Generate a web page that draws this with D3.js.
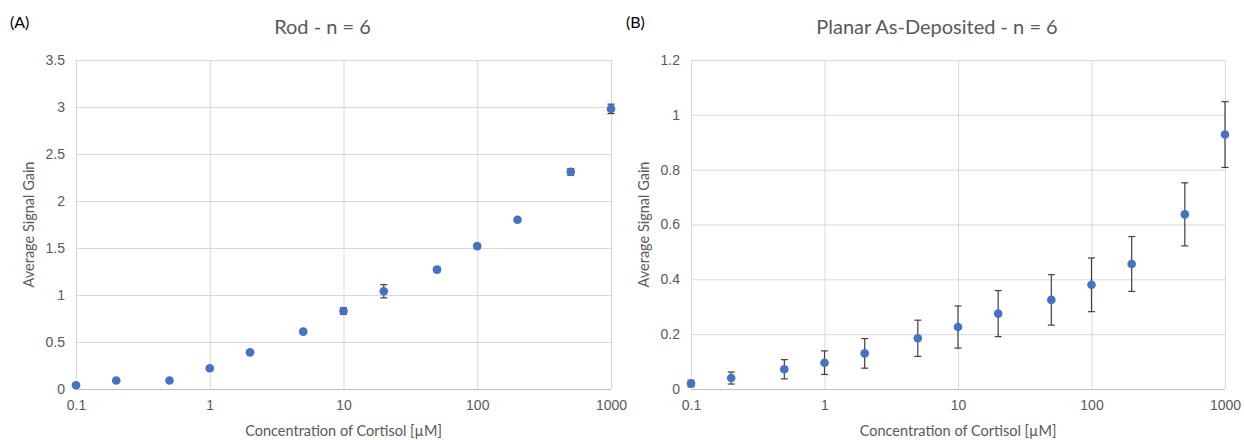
<!DOCTYPE html>
<html>
<head>
<meta charset="utf-8">
<script src="https://cdn.jsdelivr.net/npm/d3@7"></script>
<style>
  body { margin: 0; background: #fff; }
  svg { display: block; font-family: Lato, "Open Sans", sans-serif; }
  .grid line { stroke: #d9d9d9; stroke-width: 1; }
  .grid .domain { display: none; }
  .tick text { fill: #595959; font-size: 14px; }
</style>
</head>
<body>
<svg class="chart"></svg>
<script>
// DATA ////////////////////////////////////////
const concentrations = [0.1, 0.2, 0.5, 1, 2, 5, 10, 20, 50, 100, 200, 500, 1000];
const rodGain = [0.04, 0.09, 0.09, 0.22, 0.39, 0.61, 0.83, 1.04, 1.27, 1.52, 1.8, 2.31, 2.98];
const rodErr = [0.015, 0.015, 0.02, 0.02, 0.015, 0.015, 0.035, 0.07, 0.025, 0.02, 0.02, 0.035, 0.05];
const planarGain = [0.02, 0.04, 0.072, 0.096, 0.13, 0.185, 0.226, 0.275, 0.325, 0.38, 0.456, 0.637, 0.928];
const planarErr = [0.012, 0.022, 0.035, 0.043, 0.054, 0.066, 0.077, 0.084, 0.092, 0.098, 0.1, 0.115, 0.12];
const xTicks = [0.1, 1, 10, 100, 1000];
const rodTicks = [0, 0.5, 1, 1.5, 2, 2.5, 3, 3.5];
const planarTicks = [0, 0.2, 0.4, 0.6, 0.8, 1, 1.2];

// DEFINITIONS /////////////////////////////////
const W = 1244;
const H = 440;
const svg = d3.select(".chart").attr("width", W).attr("height", H);

const panels = [
  { tag: "(A)", tagX: 10, title: "Rod - n = 6", left: 76, right: 611,
    gain: rodGain, err: rodErr, ticks: rodTicks, yMax: 3.5 },
  { tag: "(B)", tagX: 626, title: "Planar As-Deposited - n = 6", left: 691, right: 1225,
    gain: planarGain, err: planarErr, ticks: planarTicks, yMax: 1.2 }
];
const plotTop = 60;
const plotBottom = 389;

// DRAW ////////////////////////////////////////
panels.forEach((p) => {
  const x = d3.scaleLog().domain([0.1, 1000]).range([p.left, p.right]);
  const y = d3.scaleLinear().domain([0, p.yMax]).range([plotBottom, plotTop]);
  const pts = concentrations.map((c, i) => ({ c, v: p.gain[i], e: p.err[i] }));

  // horizontal grid + y labels
  svg.append("g")
    .attr("class", "grid")
    .attr("transform", `translate(${p.left},0)`)
    .call(d3.axisLeft(y).tickValues(p.ticks).tickFormat(d3.format("~g"))
      .tickSize(-(p.right - p.left)).tickPadding(11))
    .call((g) => g.selectAll(".tick line").filter((d) => d === 0).style("stroke", "#bfbfbf"));

  // vertical grid + x labels
  svg.append("g")
    .attr("class", "grid")
    .attr("transform", `translate(0,${plotBottom})`)
    .call(d3.axisBottom(x).tickValues(xTicks).tickFormat((d) => d)
      .tickSize(-(plotBottom - plotTop)).tickPadding(11));

  // titles
  svg.append("text")
    .attr("x", p.tagX).attr("y", 28)
    .attr("font-size", 16).attr("fill", "#000")
    .text(p.tag);

  svg.append("text")
    .attr("x", (p.left + p.right) / 2 - 21).attr("y", 34)
    .attr("text-anchor", "middle")
    .attr("font-size", 20).attr("fill", "#595959")
    .text(p.title);

  svg.append("text")
    .attr("x", (p.left + p.right) / 2).attr("y", 436)
    .attr("text-anchor", "middle")
    .attr("font-size", 14.5).attr("fill", "#595959")
    .text("Concentration of Cortisol [µM]");

  svg.append("text")
    .attr("transform", `translate(${p.left - 42},${(plotTop + plotBottom) / 2}) rotate(-90)`)
    .attr("text-anchor", "middle")
    .attr("font-size", 14.5).attr("fill", "#595959")
    .text("Average Signal Gain");

  // error bars
  const eb = svg.append("g").attr("stroke", "#404040").attr("stroke-width", 1.2);
  eb.selectAll(".stem")
    .data(pts)
    .join("line")
    .attr("x1", (d) => x(d.c)).attr("x2", (d) => x(d.c))
    .attr("y1", (d) => y(d.v - d.e)).attr("y2", (d) => y(d.v + d.e));
  [1, -1].forEach((s) => {
    eb.selectAll(null)
      .data(pts)
      .join("line")
      .attr("x1", (d) => x(d.c) - 3.5).attr("x2", (d) => x(d.c) + 3.5)
      .attr("y1", (d) => y(d.v + s * d.e)).attr("y2", (d) => y(d.v + s * d.e));
  });

  // points
  svg.append("g")
    .selectAll("circle")
    .data(pts)
    .join("circle")
    .attr("cx", (d) => x(d.c))
    .attr("cy", (d) => y(d.v))
    .attr("r", 4.3)
    .attr("fill", "#4472c4");
});
</script>
</body>
</html>
